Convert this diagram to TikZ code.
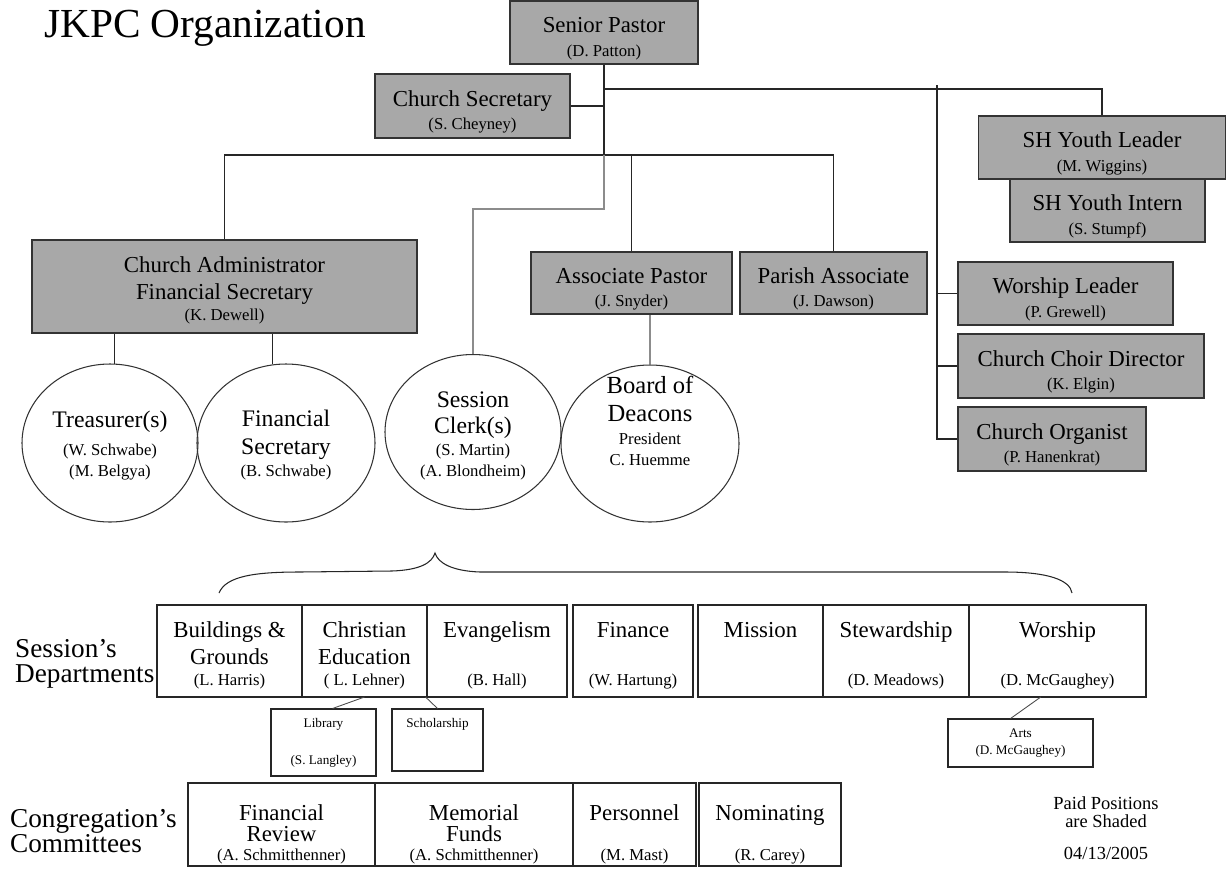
\documentclass[tikz,border=0pt]{standalone}
\usepackage{fontspec}
\setmainfont{Liberation Serif}
\usetikzlibrary{positioning, shapes.geometric}
\definecolor{paidgray}{gray}{0.66}
\newcommand{\nm}{\fontsize{9.5}{11}\selectfont}
\newcommand{\sm}{\fontsize{7.5}{9}\selectfont}

\begin{document}
\begin{tikzpicture}[x=0.02cm, y=-0.02cm,
  wh/.style 2 args={minimum width=#1*0.02cm, minimum height=#2*0.02cm},
  pbox/.style={draw=black!80, fill=paidgray, line width=0.8pt, inner xsep=2pt, inner ysep=0pt, align=center,
    text height=29.7pt, text depth=2.5pt, font=\fontsize{13}{13.6}\selectfont},
  circ/.style={ellipse, draw=black!80, line width=0.6pt, inner sep=0pt, align=center,
    text depth=2.5pt, font=\fontsize{13.5}{15.9}\selectfont},
  ctext/.style={inner sep=0pt, align=center, font=\fontsize{14}{16}\selectfont},
  dept/.style={draw=black!85, line width=0.7pt, inner xsep=2pt, inner ysep=0pt, outer sep=0pt, align=center,
    minimum height=92*0.02cm, text height=42.2pt, text depth=2.5pt, font=\fontsize{13}{15.9}\selectfont},
  cmte/.style={dept, minimum height=83*0.02cm, text height=43.9pt, font=\fontsize{13}{11.9}\selectfont},
  sbox/.style={draw=black!85, line width=0.6pt, inner sep=1pt, align=center, font=\sm},
  link/.style={black!85, line width=0.6pt},
  glink/.style={black!45, line width=0.6pt},
  slink/.style={black!70, line width=0.5pt}]
  \useasboundingbox (0,0) rectangle (1227,876);

  \node[anchor=base west, font=\fontsize{23.5}{28}\selectfont] (title) at (38,37) {JKPC Organization};

  % paid staff
  \node[pbox, wh={188}{63}] (sp) at (604,32.5) {Senior Pastor\\{\nm (D. Patton)}};
  \node[pbox, wh={195}{64}] (cs) at (472.5,106) {Church Secretary\\{\nm (S. Cheyney)}};
  \node[pbox, wh={247}{63}] (yl) at (1102,147.5) {SH Youth Leader\\{\nm (M. Wiggins)}};
  \node[pbox, wh={195}{63}] (yi) at (1107.5,210.5) {SH Youth Intern\\{\nm (S. Stumpf)}};
  \node[pbox, wh={385}{93}, text height=41.6pt] (ca) at (224.5,286.5) {Church Administrator\\[2.3pt]Financial Secretary\\[-1.7pt]{\nm (K. Dewell)}};
  \node[pbox, wh={201}{62}] (ap) at (631.5,283) {Associate Pastor\\{\nm (J. Snyder)}};
  \node[pbox, wh={187}{62}] (pa) at (833.5,283) {Parish Associate\\{\nm (J. Dawson)}};
  \node[pbox, wh={215}{63}] (wl) at (1065.5,293.5) {Worship Leader\\{\nm (P. Grewell)}};
  \node[pbox, wh={246}{64}] (cd) at (1081,366) {Church Choir Director\\{\nm (K. Elgin)}};
  \node[pbox, wh={188}{64}] (co) at (1052,439) {Church Organist\\{\nm (P. Hanenkrat)}};

  % elected officers
  \node[circ, wh={176}{158}, text height=41pt] (tr) at (110,443) {Treasurer(s)\\{\nm (W. Schwabe)}\\[-4pt]{\nm (M. Belgya)}};
  \node[circ, wh={178}{158}, text height=41pt] (fs) at (286,443) {Financial\\[0.5pt]Secretary\\[-3.4pt]{\nm (B. Schwabe)}};
  \node[circ, wh={176}{155}, text height=53.5pt] (sc) at (473,432) {Session\\[-1.2pt]Clerk(s)\\[-2.9pt]{\nm (S. Martin)}\\[-4pt]{\nm (A. Blondheim)}};
  \node[circ, wh={178}{157}] (bd) at (650,443.5) {};
  \node[ctext, below=0.22cm of bd.north] (bdt) {Board of\\Deacons\\[-3pt]{\nm President}\\[-4pt]{\nm C. Huemme}};

  \coordinate (hub) at (sp.south |- 0,155);
  \coordinate (yj) at (sp.south |- 0,89);
  \coordinate (gj) at (sp.south |- 0,209);
  \coordinate (rt) at (937,85);
  \draw[link] (sp.south) -- (hub);
  \draw[link] (cs.east) -- (cs.east -| sp.south);
  \draw[link] (yj) -| (yl.north);
  \draw[link] (rt) |- (co.west);
  \draw[link] (wl.west) -- (wl.west -| rt);
  \draw[link] (cd.west) -- (cd.west -| rt);
  \draw[link] (ca.north) |- (hub) -| (pa.north);
  \draw[link] (ap.north) -- (ap.north |- hub);
  \draw[glink] (hub) -- (gj) -| (sc.north);
  \draw[link] (tr.87) -- (tr.87 |- ca.south);
  \draw[link] (fs.100) -- (fs.100 |- ca.south);
  \draw[glink] (bd.north) -- (bd.north |- ap.south);

  % session's departments
  \draw[link] (219,593) .. controls (226,576) and (255,572) .. (300,572) -- (392,571)
    .. controls (420,570) and (432,563) .. (435,553)
    .. controls (438,563) and (452,571) .. (480,572) -- (1005,572)
    .. controls (1048,572) and (1070,580) .. (1072,593);
  \node[anchor=west, align=left, font=\fontsize{15.5}{14.2}\selectfont] (sdlab) at (9,664) {Session's\\Departments};
  \node[dept, minimum width=145*0.02cm] (bg) at (229.5,651) {Buildings \&\\Grounds\\[-4pt]{\nm (L. Harris)}};
  \node[dept, minimum width=125*0.02cm, right=0pt of bg] (ce) {Christian\\Education\\[-4pt]{\nm ( L. Lehner)}};
  \node[dept, minimum width=140*0.02cm, right=0pt of ce] (ev) {Evangelism\\~\\[-4pt]{\nm (B. Hall)}};
  \node[dept, minimum width=120*0.02cm] (fi) at (633,651) {Finance\\~\\[-4pt]{\nm (W. Hartung)}};
  \node[dept, minimum width=125*0.02cm] (mi) at (760.5,651) {Mission\\~\\[-4pt]~};
  \node[dept, minimum width=146*0.02cm, right=0pt of mi] (st) {Stewardship\\~\\[-4pt]{\nm (D. Meadows)}};
  \node[dept, minimum width=177*0.02cm, right=0pt of st] (wo) {Worship\\~\\[-4pt]{\nm (D. McGaughey)}};

  \node[sbox, wh={105}{67}] (lib) at (323.5,742.5) {Library\\[12pt](S. Langley)};
  \node[sbox, wh={91}{62}, text height=5.5pt, text depth=20pt] (sch) at (437.5,740) {Scholarship};
  \node[sbox, wh={145}{48}] (arts) at (1020.5,743) {Arts\\[1pt](D. McGaughey)};
  \draw[slink] (ce.south) -- (lib.75);
  \draw[slink] (ce.-37) -- (sch.north);
  \draw[slink] (wo.-110) -- (arts.112);

  % congregation's committees
  \node[anchor=west, align=left, font=\fontsize{15.5}{13.5}\selectfont] (cclab) at (4,831) {Congregation's\\Committees};
  \node[cmte, minimum width=187*0.02cm] (fr) at (281.5,824.5) {Financial\\Review\\[-1.1pt]{\nm (A. Schmitthenner)}};
  \node[cmte, minimum width=198*0.02cm, right=0pt of fr] (mf) {Memorial\\Funds\\[-1.1pt]{\nm (A. Schmitthenner)}};
  \node[cmte, minimum width=123*0.02cm, right=0pt of mf] (pe) {Personnel\\~\\[-1.1pt]{\nm (M. Mast)}};
  \node[cmte, minimum width=142*0.02cm] (no) at (770,824.5) {Nominating\\~\\[-1.1pt]{\nm (R. Carey)}};

  \node[align=center, font=\fontsize{10.5}{10.3}\selectfont] (paid) at (1106,812) {Paid Positions\\are Shaded};
  \node[font=\fontsize{10.5}{12}\selectfont] (date) at (1106,853) {04/13/2005};
\end{tikzpicture}
\end{document}
